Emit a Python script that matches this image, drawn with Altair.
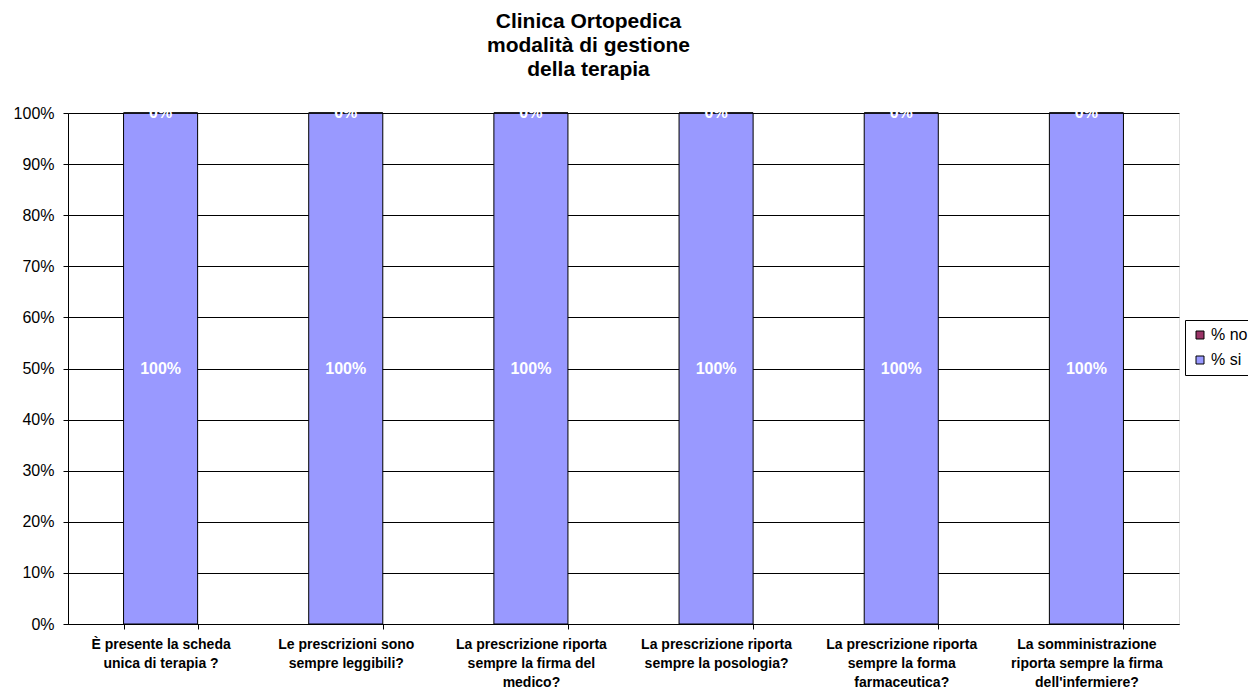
import altair as alt
import pandas as pd

categories = [
    "È presente la scheda|unica di terapia ?",
    "Le prescrizioni sono|sempre leggibili?",
    "La prescrizione riporta|sempre la firma del|medico?",
    "La prescrizione riporta|sempre la posologia?",
    "La prescrizione riporta|sempre la forma|farmaceutica?",
    "La somministrazione|riporta sempre la firma|dell'infermiere?",
]
pct_si = [1.0, 1.0, 1.0, 1.0, 1.0, 1.0]
pct_no = [0.0, 0.0, 0.0, 0.0, 0.0, 0.0]
series = ["% no", "% si"]
colors = ["#993366", "#9999FF"]
y_ticks = [i / 10 for i in range(11)]

rows = []
for c, s, n in zip(categories, pct_si, pct_no):
    rows.append({"cat": c, "serie": "% si", "value": s, "ord": 0})
    rows.append({"cat": c, "serie": "% no", "value": n, "ord": 1})
df = pd.DataFrame(rows)

FONT = "Liberation Sans"

base = alt.Chart(df).transform_stack(
    stack="value", groupby=["cat"], sort=[alt.SortField("ord")], as_=["v0", "v1"]
).transform_calculate(mid="(datum.v0 + datum.v1) / 2")

x_enc = alt.X(
    "cat:N",
    sort=categories,
    title=None,
    scale=alt.Scale(paddingInner=0.6, paddingOuter=0.3),
    axis=alt.Axis(
        labelExpr="split(datum.label, '|')",
        labelAngle=0,
        labelFont=FONT,
        labelFontSize=14,
        labelFontWeight="bold",
        labelColor="black",
        labelLineHeight=19,
        labelPadding=8,
        tickBand="extent",
        tickColor="black",
        tickSize=5,
        domainColor="black",
        grid=False,
    ),
)

bars = base.mark_bar(stroke="black", strokeWidth=1).encode(
    x=x_enc,
    y=alt.Y(
        "v0:Q",
        title=None,
        scale=alt.Scale(domain=[0, 1], nice=False),
        axis=alt.Axis(
            values=y_ticks,
            format=".0%",
            labelFont=FONT,
            labelFontSize=16,
            labelColor="black",
            labelPadding=9,
            tickColor="black",
            tickSize=5,
            domainColor="black",
            gridColor="black",
            gridWidth=1,
            grid=True,
        ),
    ),
    y2="v1:Q",
    color=alt.Color(
        "serie:N",
        scale=alt.Scale(domain=series, range=colors),
        legend=alt.Legend(
            title=None,
            orient="none",
            legendX=1117,
            legendY=207,
            symbolType="square",
            symbolSize=64,
            symbolStrokeColor="black",
            symbolStrokeWidth=1,
            labelFont=FONT,
            labelFontSize=16,
            labelColor="black",
            strokeColor="black",
            padding=7,
            rowPadding=9,
            labelOffset=3,
        ),
    ),
)

labels = base.mark_text(
    color="white", font=FONT, fontSize=16, fontWeight="bold", baseline="middle"
).encode(
    x=alt.X("cat:N", sort=categories),
    y=alt.Y("mid:Q"),
    text=alt.Text("value:Q", format=".0%"),
)

chart = (
    alt.layer(bars, labels)
    .properties(
        width=1111,
        height=511,
        autosize=alt.AutoSizeParams(type="none"),
        padding={"left": 60, "top": 105, "right": 69, "bottom": 72},
        title=alt.TitleParams(
            text=["Clinica Ortopedica", "modalità di gestione", "della terapia"],
            font=FONT,
            fontSize=21,
            fontWeight="bold",
            color="black",
            lineHeight=24,
            anchor="middle",
            dx=-35,
            offset=25,
        ),
    )
    .configure_view(stroke=None)
    .configure(background="white")
)

chart.save("out.html", embed_options={"renderer": "svg", "actions": False})
